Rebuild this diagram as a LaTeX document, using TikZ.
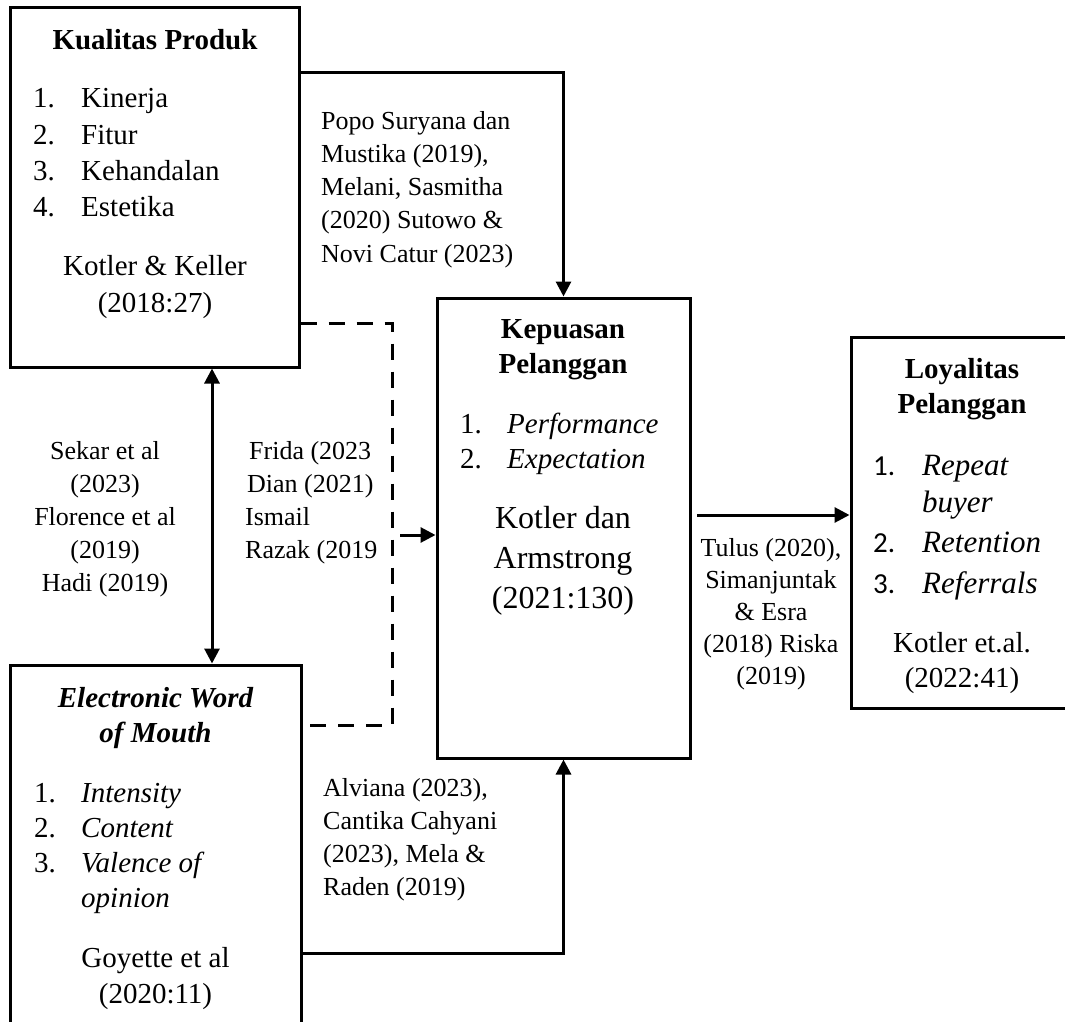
\documentclass[tikz,border=0pt]{standalone}
\usepackage{fontspec}
\setmainfont{Liberation Serif}
\newfontfamily\calib{Carlito}
\usetikzlibrary{arrows.meta}
\newcommand\blockt[2]{\begin{tabular}[t]{@{}#1@{}}#2\end{tabular}}
\begin{document}
\begin{tikzpicture}[x=1pt,y=-1pt,
  box/.style={draw,line width=3pt,inner sep=0pt},
  lbl/.style={inner sep=0pt,anchor=base},
  conn/.style={line width=3pt,-{Triangle[length=15pt,width=15pt]}},
  dconn/.style={line width=3pt,{Triangle[length=15pt,width=15pt]}-{Triangle[length=15pt,width=15pt]}},
  dashline/.style={line width=3pt,dash pattern=on 16pt off 12pt}]
\useasboundingbox (0,0) rectangle (1065,1022);
\clip (0,0) rectangle (1065,1022);
% boxes
\node[box,minimum width=289pt,minimum height=359pt] (kp) at (154.5,187.5) {};
\node[box,minimum width=253pt,minimum height=460pt] (kep) at (563.5,528) {};
\node[box,minimum width=222pt,minimum height=371pt] (loy) at (962,522.5) {};
\node[box,minimum width=291pt,minimum height=395pt] (ew) at (155.5,862.5) {};
% connectors
\draw[conn] (kp.east |- 0,73) -| (kep.north);
\draw[conn] (ew.east |- 0,953) -| (kep.south);
\draw[dconn] (kp.south -| 212,0) -- (ew.north -| 212,0);
\draw[dashline] (kp.east |- 0,323) -- (392,323) -- (392,725) -- (ew.east |- 0,725);
\coordinate (d1) at (400,535);
\draw[conn] (d1) -- (kep.west |- d1);
\coordinate (e1) at (697,515);
\draw[conn] (e1) -- (loy.west |- e1);
% Kualitas Produk
\node[lbl,font=\fontsize{29}{35}\selectfont\bfseries] (kpT) at (155,50) {Kualitas Produk};
\node[lbl,anchor=base west,font=\fontsize{29}{36.3}\selectfont] (kpL) at (33,108)
  {\blockt{l}{\makebox[48pt][l]{1.}Kinerja\\\makebox[48pt][l]{2.}Fitur\\\makebox[48pt][l]{3.}Kehandalan\\\makebox[48pt][l]{4.}Estetika}};
\node[lbl,font=\fontsize{29}{37}\selectfont] (kpR) at (155,275) {\blockt{c}{Kotler \& Keller\\(2018:27)}};
% Popo
\node[lbl,anchor=base west,font=\fontsize{26}{33.3}\selectfont] (popo) at (321,129)
  {\blockt{l}{Popo Suryana dan\\Mustika (2019),\\Melani, Sasmitha\\(2020) Sutowo \&\\Novi Catur (2023)}};
% Kepuasan
\node[lbl,font=\fontsize{29}{35}\selectfont\bfseries] (kepT) at (563,338) {\blockt{c}{Kepuasan\\Pelanggan}};
\node[lbl,anchor=base west,font=\fontsize{29}{35}\selectfont] (kepL) at (460,433)
  {\blockt{l}{\makebox[47pt][l]{1.}\textit{Performance}\\\makebox[47pt][l]{2.}\textit{Expectation}}};
\node[lbl,font=\fontsize{32}{40}\selectfont] (kepR) at (563,528) {\blockt{c}{Kotler dan\\Armstrong\\(2021:130)}};
% Sekar
\node[lbl,font=\fontsize{26}{33}\selectfont] (sek) at (105,459)
  {\blockt{c}{Sekar et al\\(2023)\\Florence et al\\(2019)\\Hadi (2019)}};
% Frida
\node[lbl,anchor=base west,font=\fontsize{26}{33}\selectfont] (fri) at (245,459)
  {\blockt{l}{\hspace*{4pt}Frida (2023\\\hspace*{2pt}Dian (2021)\\Ismail\\Razak (2019}};
% Tulus
\node[lbl,font=\fontsize{26}{32}\selectfont] (tul) at (771,556)
  {\blockt{c}{Tulus (2020),\\Simanjuntak\\\& Esra\\(2018) Riska\\(2019)}};
% Loyalitas
\node[lbl,font=\fontsize{29}{35}\selectfont\bfseries] (loyT) at (962,378) {\blockt{c}{Loyalitas\\Pelanggan}};
\node[lbl,anchor=base west,font=\fontsize{31}{37}\selectfont] (loyL) at (873,475)
  {\blockt{l}{\makebox[49pt][l]{\calib\fontsize{29}{37}\selectfont 1.}\textit{Repeat}\\\hspace*{49pt}\textit{buyer}\\[3pt]\makebox[49pt][l]{\calib\fontsize{29}{37}\selectfont 2.}\textit{Retention}\\[4pt]\makebox[49pt][l]{\calib\fontsize{29}{37}\selectfont 3.}\textit{Referrals}}};
\node[lbl,font=\fontsize{29}{35}\selectfont] (loyR) at (962,652) {\blockt{c}{Kotler et.al.\\(2022:41)}};
% eWOM
\node[lbl,font=\fontsize{29}{35}\selectfont\bfseries\itshape] (ewT) at (155.5,707) {\blockt{c}{Electronic Word\\of Mouth}};
\node[lbl,anchor=base west,font=\fontsize{29}{35.3}\selectfont] (ewL) at (34,802)
  {\blockt{l}{\makebox[47pt][l]{1.}\textit{Intensity}\\\makebox[47pt][l]{2.}\textit{Content}\\\makebox[47pt][l]{3.}\textit{Valence of}\\\hspace*{47pt}\textit{opinion}}};
\node[lbl,font=\fontsize{29}{36}\selectfont] (ewR) at (155.5,967) {\blockt{c}{Goyette et al\\(2020:11)}};
% Alviana
\node[lbl,anchor=base west,font=\fontsize{26}{33}\selectfont] (alv) at (323,796)
  {\blockt{l}{Alviana (2023),\\Cantika Cahyani\\(2023), Mela \&\\Raden (2019)}};
\end{tikzpicture}
\end{document}
